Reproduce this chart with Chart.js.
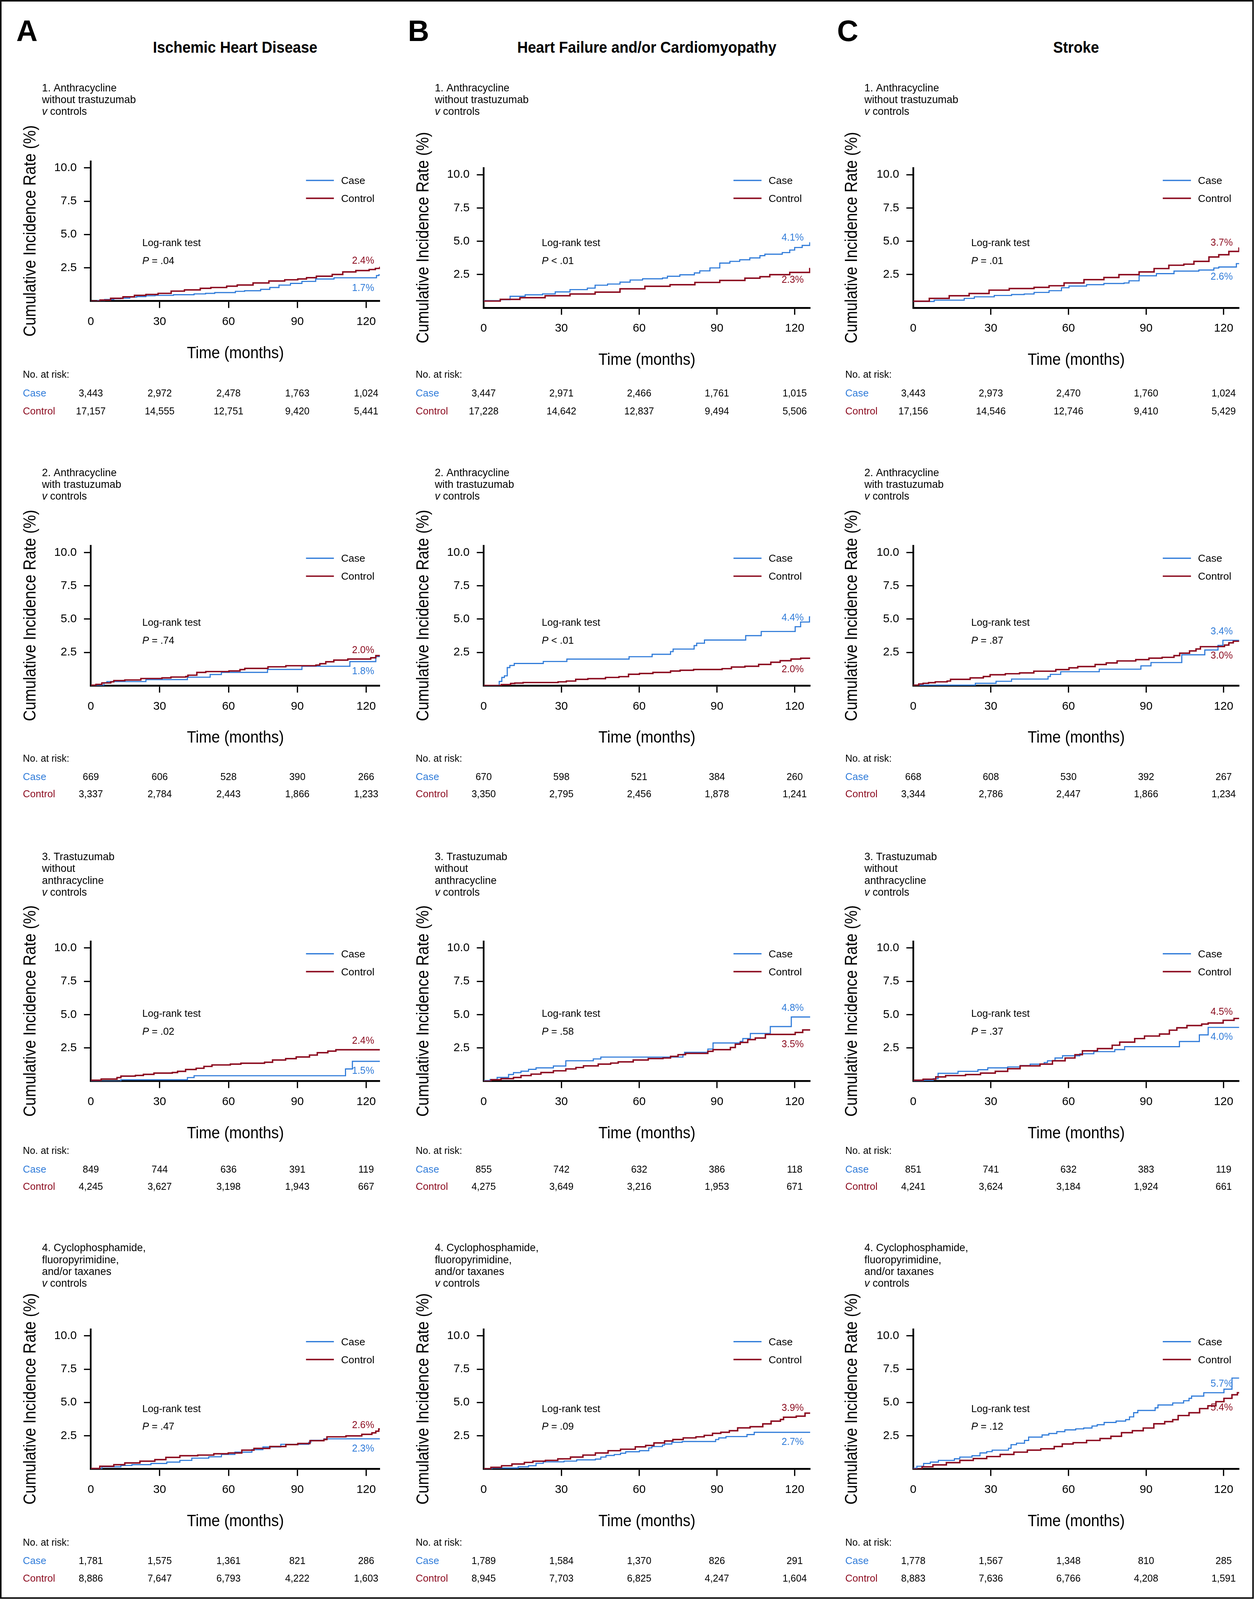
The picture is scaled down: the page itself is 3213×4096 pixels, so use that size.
<!DOCTYPE html>
<html><head><meta charset="utf-8">
<script src="https://cdn.jsdelivr.net/npm/chart.js@4.4.1/dist/chart.umd.min.js"></script>
<style>
html,body{margin:0;padding:0;background:#fff;}
#fig{position:relative;width:3213px;height:4096px;overflow:hidden;background:#fff;}
#fig canvas{position:absolute;}
.frame{position:absolute;left:0;top:0;box-sizing:border-box;border:4px solid #111;}
.hdr{position:absolute;font-family:"Liberation Sans",Arial,sans-serif;font-weight:bold;color:#000;white-space:nowrap;line-height:1;}
</style></head><body><div id="fig"></div>
<script>
// ---------------- data ----------------
const columnLetters = ['A', 'B', 'C'];
const columnTitles = ['Ischemic Heart Disease', 'Heart Failure and/or Cardiomyopathy', 'Stroke'];
const seriesNames = ['Case', 'Control'];
const xTicks = [0, 30, 60, 90, 120];
const xTickLabels = ['0', '30', '60', '90', '120'];
const yTicks = [2.5, 5, 7.5, 10];
const yTickLabels = ['2.5', '5.0', '7.5', '10.0'];
const yAxisTitle = 'Cumulative Incidence Rate (%)';
const xAxisTitle = 'Time (months)';
const riskTitle = 'No. at risk:';
const rowSubtitles = [
  ['1. Anthracycline', 'without trastuzumab'],
  ['2. Anthracycline', 'with trastuzumab'],
  ['3. Trastuzumab', 'without', 'anthracycline'],
  ['4. Cyclophosphamide,', 'fluoropyrimidine,', 'and/or taxanes']
];
const panelIds = ['A1', 'B1', 'C1', 'A2', 'B2', 'C2', 'A3', 'B3', 'C3', 'A4', 'B4', 'C4'];
const pValues = ['= .04', '< .01', '= .01', '= .74', '< .01', '= .87', '= .02', '= .58', '= .37', '= .47', '= .09', '= .12'];
const caseEndLabels = ['1.7%', '4.1%', '2.6%', '1.8%', '4.4%', '3.4%', '1.5%', '4.8%', '4.0%', '2.3%', '2.7%', '5.7%'];
const controlEndLabels = ['2.4%', '2.3%', '3.7%', '2.0%', '2.0%', '3.0%', '2.4%', '3.5%', '4.5%', '2.6%', '3.9%', '5.4%'];
const riskCase = [
  ['3,443', '2,972', '2,478', '1,763', '1,024'],
  ['3,447', '2,971', '2,466', '1,761', '1,015'],
  ['3,443', '2,973', '2,470', '1,760', '1,024'],
  ['669', '606', '528', '390', '266'],
  ['670', '598', '521', '384', '260'],
  ['668', '608', '530', '392', '267'],
  ['849', '744', '636', '391', '119'],
  ['855', '742', '632', '386', '118'],
  ['851', '741', '632', '383', '119'],
  ['1,781', '1,575', '1,361', '821', '286'],
  ['1,789', '1,584', '1,370', '826', '291'],
  ['1,778', '1,567', '1,348', '810', '285']
];
const riskControl = [
  ['17,157', '14,555', '12,751', '9,420', '5,441'],
  ['17,228', '14,642', '12,837', '9,494', '5,506'],
  ['17,156', '14,546', '12,746', '9,410', '5,429'],
  ['3,337', '2,784', '2,443', '1,866', '1,233'],
  ['3,350', '2,795', '2,456', '1,878', '1,241'],
  ['3,344', '2,786', '2,447', '1,866', '1,234'],
  ['4,245', '3,627', '3,198', '1,943', '667'],
  ['4,275', '3,649', '3,216', '1,953', '671'],
  ['4,241', '3,624', '3,184', '1,924', '661'],
  ['8,886', '7,647', '6,793', '4,222', '1,603'],
  ['8,945', '7,703', '6,825', '4,247', '1,604'],
  ['8,883', '7,636', '6,766', '4,208', '1,591']
];

// cumulative incidence step curves: [month, percent]
const A1_case = [[0,0],[3,0.05],[6,0.12],[10,0.18],[13,0.22],[17,0.3],[20,0.34],[24,0.4],[28,0.43],[36,0.48],[45,0.54],[50,0.58],[54,0.64],[63,0.73],[67,0.78],[74,0.88],[78,1.02],[82,1.2],[87,1.33],[92,1.48],[98,1.66],[106,1.75],[124.5,1.92],[125.5,1.97],[126,1.97]];
const A1_control = [[0,0],[4,0.08],[8.6,0.21],[14,0.32],[19,0.43],[24,0.5],[29.3,0.58],[35,0.75],[40.8,0.84],[47.7,0.96],[52.3,1.02],[59.2,1.12],[63.8,1.21],[70.7,1.36],[77.6,1.51],[84.5,1.6],[90.2,1.66],[94,1.76],[98.3,1.87],[105.2,2.0],[109.8,2.19],[115.5,2.29],[121.3,2.37],[124,2.45],[125.9,2.53],[126,2.53]];
const B1_case = [[0,0.54],[6.4,0.62],[10.2,0.87],[16,0.98],[22.7,1.05],[27.6,1.2],[33.3,1.37],[40,1.48],[43,1.7],[47.8,1.79],[52.6,1.93],[56.5,2.09],[61.3,2.18],[69,2.24],[70.9,2.37],[75.7,2.48],[81.3,2.62],[83.4,2.78],[87.3,3.0],[91.1,3.36],[95,3.49],[98.8,3.61],[102.7,3.75],[106.6,3.92],[108.5,4.03],[115.2,4.15],[118.1,4.34],[120,4.53],[122.9,4.69],[125.8,4.88],[126,4.88]];
const B1_control = [[0,0.51],[6.4,0.64],[14,0.76],[23.7,0.91],[33.3,1.04],[43,1.18],[52.6,1.43],[62.2,1.62],[71.9,1.74],[81.5,1.91],[91.1,2.06],[100.8,2.23],[106.6,2.34],[110.4,2.49],[118.1,2.66],[125.8,2.95],[126,2.95]];
const C1_case = [[0,0.48],[8.1,0.58],[19.7,0.71],[23.6,0.83],[31.3,0.93],[38,1.0],[42.9,1.04],[46.7,1.16],[52.5,1.29],[57.3,1.51],[60.2,1.64],[67,1.74],[73.7,1.83],[81.5,1.87],[83.4,2.03],[87.3,2.41],[94,2.57],[100.8,2.76],[110.4,2.84],[116.2,2.99],[118.1,3.07],[124.9,3.32],[126,3.32]];
const C1_control = [[0,0.5],[6.2,0.71],[13.9,0.91],[21.6,1.08],[29.3,1.33],[37.1,1.45],[46.7,1.54],[52.5,1.66],[58.3,1.87],[66,2.12],[73.7,2.28],[79.5,2.49],[87.3,2.7],[93.1,2.95],[98.8,3.2],[104.6,3.28],[108.5,3.49],[114.3,3.82],[118.1,3.99],[122,4.24],[125.9,4.49],[126,4.49]];
const A2_case = [[0,0],[5.7,0.21],[7,0.31],[24,0.46],[42.1,0.64],[52,0.84],[56.9,1.0],[77,1.22],[92,1.46],[112.9,1.81],[124.2,2.19],[126,2.19]];
const A2_control = [[0,0.04],[2.2,0.1],[4.8,0.21],[8.7,0.29],[10,0.38],[14.8,0.43],[21.8,0.54],[31,0.59],[34.9,0.65],[41.4,0.69],[42.3,0.79],[46.2,1.0],[50.1,1.06],[60.2,1.11],[65,1.21],[67.1,1.3],[77.2,1.42],[85,1.5],[98.1,1.55],[99.8,1.65],[102.4,1.8],[105.9,1.92],[112,2.0],[122,2.1],[124.2,2.26],[126,2.26]];
const B2_case = [[0,0],[6,0.32],[7,0.62],[8,0.74],[9.1,1.36],[10.1,1.52],[11.8,1.67],[23,1.82],[32.1,2.0],[56.1,2.18],[65,2.36],[72.1,2.56],[73.1,2.75],[81.2,3.01],[82.2,3.19],[85.2,3.43],[101.1,3.76],[107.1,4.07],[120.2,4.43],[122.3,4.78],[125.7,5.17],[126,5.17]];
const B2_control = [[0,0.02],[6.8,0.08],[10.4,0.17],[12,0.2],[15.2,0.24],[28.7,0.29],[31.9,0.35],[35.5,0.48],[40.2,0.53],[47,0.62],[52.2,0.68],[55.9,0.86],[60.1,0.92],[65.3,1.0],[72.1,1.1],[75.8,1.16],[81,1.22],[92,1.28],[95.6,1.4],[100.8,1.46],[106.1,1.6],[110.8,1.76],[114.4,1.88],[118.6,2.0],[122.3,2.06],[126,2.06]];
const C2_case = [[0,0.04],[24,0.18],[32,0.33],[38,0.5],[52.1,0.69],[53,0.85],[57,1.05],[71.9,1.24],[88,1.49],[91.9,1.74],[103.8,2.32],[112.7,2.68],[117.8,3.03],[119.7,3.41],[126,3.41]];
const C2_control = [[0,0.04],[2.1,0.13],[3.8,0.18],[5.9,0.23],[8.5,0.29],[13.1,0.35],[14.4,0.48],[22,0.59],[27.1,0.69],[29.7,0.82],[35.6,0.9],[41.1,0.96],[46.6,1.09],[55.1,1.21],[60.2,1.34],[63.6,1.44],[70.3,1.59],[74.6,1.71],[78.8,1.86],[86,1.96],[91.1,2.07],[96.2,2.13],[100.8,2.26],[103,2.44],[106.8,2.61],[109.3,2.76],[111,2.93],[117.8,2.94],[120.3,3.05],[122,3.22],[123.7,3.34],[126,3.34]];
const A3_case = [[0,0],[13.1,0.11],[42.1,0.27],[45,0.41],[111,0.92],[114,1.49],[126,1.49]];
const A3_control = [[0,0.07],[4.5,0.16],[11.4,0.27],[13.1,0.38],[19.4,0.43],[22.9,0.51],[27.5,0.61],[35.5,0.65],[37.8,0.74],[41.3,0.88],[45.9,0.97],[49.3,1.11],[52.8,1.22],[60.8,1.28],[65.4,1.35],[75.7,1.42],[79.2,1.59],[84.9,1.69],[89.5,1.82],[95.3,1.96],[98.7,2.14],[103.3,2.26],[106.8,2.36],[126,2.36]];
const B3_case = [[0,0.05],[2.5,0.13],[5.2,0.28],[9.6,0.5],[11.5,0.64],[14.4,0.75],[17.3,0.89],[20.2,1.0],[26.9,1.14],[31.7,1.53],[42.3,1.67],[45.2,1.81],[76.9,2.01],[77.5,2.17],[86.5,2.41],[88.5,2.87],[99,2.99],[100,3.2],[102.9,3.58],[110.6,4.1],[118.7,4.82],[126,4.82]];
const B3_control = [[0,0],[2.9,0.11],[6.7,0.19],[11.5,0.28],[14.4,0.42],[18.3,0.53],[22.1,0.65],[26.9,0.78],[31.7,0.92],[35.6,1.03],[38.5,1.15],[44.2,1.28],[49,1.36],[51.9,1.45],[57.7,1.59],[63.5,1.7],[69.2,1.74],[72.1,1.86],[75,1.99],[77.9,2.09],[86.5,2.24],[88.5,2.37],[95.2,2.53],[97.1,2.78],[99,2.91],[101.9,3.12],[104.8,3.24],[108.7,3.51],[120.2,3.66],[123.1,3.85],[126,3.85]];
const C3_case = [[0,0],[3.8,0.07],[7.7,0.19],[9.6,0.59],[17.3,0.74],[25,0.86],[28.8,1.0],[36.5,1.07],[41.3,1.17],[45.2,1.28],[50.6,1.4],[51.9,1.53],[54.8,1.74],[57.7,1.91],[64.4,2.06],[69.8,2.22],[77.9,2.37],[81.7,2.59],[102.9,2.98],[110.6,3.48],[114,4.04],[126,4.04]];
const C3_control = [[0,0.07],[3.8,0.15],[8.7,0.32],[12.5,0.42],[20.2,0.5],[26,0.61],[31.7,0.74],[36.5,0.94],[41.3,1.15],[49,1.28],[53.8,1.53],[58.7,1.74],[62.5,1.99],[65.4,2.28],[71.2,2.45],[76.9,2.7],[79.8,2.93],[85.6,3.2],[89.4,3.39],[95.2,3.54],[99,3.83],[101.9,4.01],[105.8,4.18],[111.5,4.29],[114,4.37],[119.8,4.57],[124,4.71],[126,4.71]];
const A4_case = [[0,0],[4.8,0.17],[13.1,0.27],[17.9,0.33],[26.2,0.42],[33.1,0.52],[38.8,0.65],[44,0.82],[51.4,0.92],[56.9,1.1],[62.8,1.27],[70.2,1.46],[75,1.66],[82.8,1.86],[95,2.01],[95.9,2.16],[101.6,2.27],[126,2.27]];
const A4_control = [[0,0.04],[3.9,0.21],[10,0.33],[14.8,0.46],[21.4,0.59],[27.9,0.71],[32.7,0.88],[38.8,1.0],[46.6,1.05],[53.6,1.15],[59.9,1.21],[65.8,1.42],[71.1,1.55],[78,1.69],[85,1.84],[90.2,1.92],[95.5,2.13],[101.6,2.22],[102.9,2.42],[111.2,2.49],[118.1,2.61],[122.5,2.72],[124.2,2.84],[125.5,3.01],[126,3.01]];
const B4_case = [[0,0],[3.2,0.08],[13.3,0.17],[17.3,0.25],[20.2,0.43],[23,0.54],[31,0.6],[35.9,0.69],[43.1,0.75],[45.2,0.9],[47.2,1.02],[50.4,1.09],[52.8,1.19],[54.8,1.3],[60.1,1.38],[63.7,1.59],[64.9,1.69],[69,1.8],[69.8,1.88],[72.6,2.01],[76.6,2.07],[89.5,2.22],[90.7,2.34],[93.5,2.44],[101.6,2.59],[104.4,2.76],[126,2.76]];
const B4_control = [[0,0.02],[2.8,0.13],[6.9,0.25],[10.9,0.38],[15.7,0.5],[19,0.59],[23.8,0.65],[28.6,0.77],[33.5,0.9],[38.3,1.05],[43.1,1.21],[48,1.38],[52.8,1.49],[58.5,1.67],[62.5,1.77],[65.7,1.96],[69.8,2.11],[73,2.22],[77,2.34],[81.9,2.42],[85.1,2.53],[88.3,2.68],[91.5,2.76],[94.8,2.88],[98,3.09],[102.8,3.18],[107.7,3.39],[110.9,3.6],[114.5,3.72],[115.7,3.89],[120.6,3.97],[124,4.2],[126,4.2]];
const C4_case = [[0,0.06],[1.4,0.21],[4,0.42],[6.6,0.52],[9.7,0.65],[15.9,0.77],[18,0.9],[22.7,1.0],[25.8,1.21],[28.4,1.31],[30.5,1.42],[36.8,1.56],[37.8,1.83],[39.9,1.94],[43,2.15],[44.6,2.4],[49.8,2.56],[52.4,2.67],[55.5,2.81],[58.6,2.94],[62.8,3.02],[65.9,3.08],[69.1,3.23],[71.1,3.33],[73.8,3.5],[78.4,3.6],[82.1,3.71],[83.6,3.92],[85.2,4.23],[86.8,4.4],[93.5,4.6],[94.6,4.81],[100.3,4.96],[104.5,5.13],[106.6,5.31],[107.6,5.48],[112.3,5.73],[120.1,6.0],[123.2,6.83],[126,6.83]];
const C4_control = [[0,0],[3.4,0.17],[7.6,0.31],[12.8,0.48],[18,0.65],[23.2,0.79],[28.4,0.94],[33.6,1.1],[38.9,1.27],[44.1,1.42],[49.3,1.52],[54.5,1.69],[57.6,1.88],[61.8,1.98],[67,2.15],[72.2,2.29],[76.4,2.46],[80.5,2.73],[84.7,2.88],[88.9,3.08],[93,3.4],[97.2,3.56],[100.3,3.71],[102.4,4.02],[106.6,4.23],[110.7,4.54],[113.9,4.75],[117,5.06],[120.1,5.31],[123.2,5.58],[125.3,5.73],[126,5.73]];

const caseCurves = [A1_case, B1_case, C1_case, A2_case, B2_case, C2_case, A3_case, B3_case, C3_case, A4_case, B4_case, C4_case];
const controlCurves = [A1_control, B1_control, C1_control, A2_control, B2_control, C2_control, A3_control, B3_control, C3_control, A4_control, B4_control, C4_control];

// ---------------- layout (reference pixels) ----------------
const S = 0.802;
const FONT = '"Liberation Sans", Arial, Helvetica, sans-serif';
const BLUE = '#2f7bd9', RED = '#8b0a1e';
const UNIT = 42.55, XMAX = 126, YMAX = 10.5;
const COLS = [
  {left: 0, right: 1300, x0: 290, ppm: 7.32, yTitleBase: -176, legend: [-236, -147, -124], letterX: 52, titleX: 751},
  {left: 1300, right: 2645, x0: 1543.5, ppm: 8.27, yTitleBase: -176, legend: [-245, -155.5, -133], letterX: 1302, titleX: 2065},
  {left: 2645, right: 4006, x0: 2915.7, ppm: 8.253, yTitleBase: -180, legend: [-244, -154, -131.5], letterX: 2672, titleX: 3435}
];
const ROWS = [
  {top: 240, bottom: 1360, base: 983.6, sub: [292, 329.5, 367], risk: [1206, 1266.6, 1324], lr: 197.5},
  {top: 1470, bottom: 2580, base: 2189, sub: [1520, 1557.5, 1595], risk: [2431, 2490, 2545], lr: 191.5},
  {top: 2690, bottom: 3830, base: 3452, sub: [2746, 2784, 2821.7, 2859.6], risk: [3684, 3743, 3799], lr: 206},
  {top: 3940, bottom: 5095, base: 4689.5, sub: [3994, 4032, 4069.7, 4106.5], risk: [4934, 4992, 5049], lr: 182.5}
];
const plotBaseOverride = {A1: 962};
const caseLabelY = [0.77, 5.05, 2.12, 0.85, 4.89, 3.85, 0.54, 5.27, 3.09, 1.31, 1.80, 6.17];
const controlLabelY = [2.82, 1.89, 4.66, 2.44, 1.01, 2.05, 2.81, 2.56, 4.97, 3.06, 4.36, 4.38];

const fig = document.getElementById('fig');
const frame = document.createElement('div');
frame.className = 'frame';
frame.style.width = (4003 * S) + 'px';
frame.style.height = (5104 * S) + 'px';
fig.appendChild(frame);

// headers
columnLetters.forEach((L, c) => {
  const d = document.createElement('div');
  d.className = 'hdr';
  const f = 94 * S;
  d.style.fontSize = f + 'px';
  d.style.left = (COLS[c].letterX * S) + 'px';
  d.style.top = (131.6 * S - 0.8465 * f) + 'px';
  d.textContent = L;
  fig.appendChild(d);
  const t = document.createElement('div');
  t.className = 'hdr';
  const f2 = 50 * S;
  t.style.fontSize = f2 + 'px';
  t.style.left = (COLS[c].titleX * S) + 'px';
  t.style.top = (168.4 * S - 0.8465 * f2) + 'px';
  t.style.transform = 'translateX(-50%) scaleX(0.94)';
  t.textContent = columnTitles[c];
  fig.appendChild(t);
});

function drawText(ctx, s, x, y, o) {
  ctx.save();
  ctx.font = (o.italic ? 'italic ' : '') + (o.bold ? 'bold ' : '') + o.size + 'px ' + FONT;
  ctx.fillStyle = o.color || '#000';
  ctx.textAlign = o.align || 'left';
  ctx.textBaseline = 'alphabetic';
  ctx.translate(x, y);
  if (o.rot) ctx.rotate(o.rot);
  if (o.cond) ctx.scale(o.cond, 1);
  ctx.fillText(s, 0, 0);
  ctx.restore();
}
function drawMixed(ctx, a, b, x, y, size, color) {
  ctx.save();
  ctx.font = 'italic ' + size + 'px ' + FONT;
  const w = ctx.measureText(a).width;
  ctx.restore();
  drawText(ctx, a, x, y, {size: size, italic: true, color: color});
  drawText(ctx, b, x + w, y, {size: size, color: color});
}

const panelText = {
  id: 'panelText',
  afterDraw(chart, args, o) {
    const ctx = chart.ctx, xs = chart.scales.x, ys = chart.scales.y, ca = chart.chartArea;
    const col = COLS[o.c], row = ROWS[o.r], k = o.k;
    const X = v => (v - col.left) * S, Y = v => (v - row.top) * S;
    // subtitle
    const subX = X(col.x0 - 156);
    const lines = rowSubtitles[o.r];
    lines.forEach((t, i) => drawText(ctx, t, subX, Y(row.sub[i]), {size: 33.5 * S}));
    drawMixed(ctx, 'v', ' controls', subX, Y(row.sub[lines.length]), 33.5 * S, '#000');
    // axis titles
    drawText(ctx, yAxisTitle, ca.left + col.yTitleBase * S, ca.bottom - 224 * S, {size: 55 * S, align: 'center', rot: -Math.PI / 2, cond: 0.89});
    drawText(ctx, xAxisTitle, (ca.left + ca.right) / 2, ca.bottom + 182 * S, {size: 52 * S, align: 'center', cond: 0.93});
    // legend
    const lx = col.legend.map(d => ca.right + d * S);
    const ly = [Y(row.base - 407), Y(row.base - 350)];
    [BLUE, RED].forEach((clr, i) => {
      ctx.save();
      ctx.strokeStyle = clr;
      ctx.lineWidth = (i ? 4.5 : 4) * S;
      ctx.beginPath();
      ctx.moveTo(lx[0], ly[i]);
      ctx.lineTo(lx[1], ly[i]);
      ctx.stroke();
      ctx.restore();
      drawText(ctx, seriesNames[i], lx[2], ly[i] + 11.5 * S, {size: 33 * S});
    });
    // log-rank
    const lrx = xs.getPixelForValue(22.4), lry = Y(row.base - row.lr);
    drawText(ctx, 'Log-rank test', lrx, lry, {size: 32 * S});
    drawMixed(ctx, 'P', ' ' + pValues[k], lrx, lry + 57 * S, 32 * S, '#000');
    // end labels
    const ex = xs.getPixelForValue(123.5);
    drawText(ctx, caseEndLabels[k], ex, ys.getPixelForValue(caseLabelY[k]), {size: 31 * S, align: 'right', color: BLUE});
    drawText(ctx, controlEndLabels[k], ex, ys.getPixelForValue(controlLabelY[k]), {size: 31 * S, align: 'right', color: RED});
    // risk table
    const rx = X(col.x0 - 217);
    drawText(ctx, riskTitle, rx, Y(row.risk[0]), {size: 31 * S});
    drawText(ctx, seriesNames[0], rx, Y(row.risk[1]), {size: 32 * S, color: BLUE});
    drawText(ctx, seriesNames[1], rx, Y(row.risk[2]), {size: 32 * S, color: RED});
    xTicks.forEach((t, i) => {
      const px = xs.getPixelForValue(t);
      drawText(ctx, riskCase[k][i], px, Y(row.risk[1]), {size: 31 * S, align: 'center'});
      drawText(ctx, riskControl[k][i], px, Y(row.risk[2]), {size: 31 * S, align: 'center'});
    });
  }
};

panelIds.forEach((id, k) => {
  const r = Math.floor(k / 3), c = k % 3;
  const col = COLS[c], row = ROWS[r];
  const base = plotBaseOverride[id] !== undefined ? plotBaseOverride[id] : row.base;
  const W = col.right - col.left, H = row.bottom - row.top;
  const cv = document.createElement('canvas');
  cv.width = Math.round(W * S);
  cv.height = Math.round(H * S);
  cv.style.left = (col.left * S) + 'px';
  cv.style.top = (row.top * S) + 'px';
  cv.style.width = cv.width + 'px';
  cv.style.height = cv.height + 'px';
  fig.appendChild(cv);
  const L = col.x0 - col.left, R = col.x0 + XMAX * col.ppm - col.left;
  const B = base - row.top, T = B - YMAX * UNIT;
  const WY = 150, HX = 120;
  new Chart(cv, {
    type: 'line',
    data: {
      datasets: [
        {label: seriesNames[0], data: caseCurves[k].map(p => ({x: p[0], y: p[1]})), borderColor: BLUE, backgroundColor: BLUE, borderWidth: 3.6 * S, stepped: true, pointRadius: 0, fill: false, order: 1},
        {label: seriesNames[1], data: controlCurves[k].map(p => ({x: p[0], y: p[1]})), borderColor: RED, backgroundColor: RED, borderWidth: 4.6 * S, stepped: true, pointRadius: 0, fill: false, order: 0}
      ]
    },
    options: {
      responsive: false, animation: false, devicePixelRatio: 1,
      layout: {padding: {left: (L - WY) * S, right: (W - R) * S, top: T * S, bottom: (H - B - HX) * S}},
      plugins: {legend: {display: false}, tooltip: {enabled: false}, title: {display: false}, panelText: {k: k, r: r, c: c}},
      scales: {
        x: {
          type: 'linear', position: 'bottom', min: 0, max: XMAX, z: 1,
          afterFit: s => { s.height = HX * S; },
          afterBuildTicks: s => { s.ticks = xTicks.map(v => ({value: v})); },
          ticks: {callback: (v, i) => xTickLabels[i], font: {family: FONT, size: 37 * S}, color: '#000', padding: 22 * S, maxRotation: 0, autoSkip: false},
          grid: {display: true, drawOnChartArea: false, drawTicks: true, tickLength: 22 * S, tickWidth: 4 * S, tickColor: ctx => (ctx.tick && ctx.tick.value === 0) ? 'rgba(0,0,0,0)' : '#000'},
          border: {display: true, color: '#000', width: 6 * S}
        },
        y: {
          type: 'linear', position: 'left', min: 0, max: YMAX, z: 1,
          afterFit: s => { s.width = WY * S; },
          afterBuildTicks: s => { s.ticks = yTicks.map(v => ({value: v})); },
          ticks: {callback: (v, i) => yTickLabels[i], font: {family: FONT, size: 37 * S}, color: '#000', padding: 23 * S, autoSkip: false},
          grid: {display: true, drawOnChartArea: false, drawTicks: true, tickLength: 22 * S, tickWidth: 4 * S, tickColor: '#000'},
          border: {display: true, color: '#000', width: 5.5 * S}
        }
      }
    },
    plugins: [panelText]
  });
});
</script></body></html>
